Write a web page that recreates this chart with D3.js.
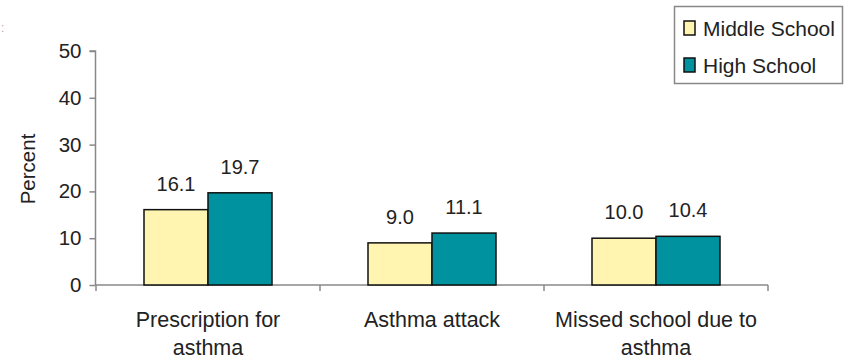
<!DOCTYPE html>
<html>
<head>
<meta charset="utf-8">
<script src="https://cdn.jsdelivr.net/npm/d3@7"></script>
<style>
  html, body { margin: 0; padding: 0; background: #fff; }
  svg { display: block; font-family: Arial, "Liberation Sans", sans-serif; }
</style>
</head>
<body>
<svg id="chart" width="850" height="359"></svg>
<script>
const categories = ["Prescription for|asthma", "Asthma attack", "Missed school due to|asthma"];
const seriesNames = ["Middle School", "High School"];
const middleSchool = [16.1, 9.0, 10.0];
const highSchool = [19.7, 11.1, 10.4];
const yTicks = [0, 10, 20, 30, 40, 50];
const colors = ["#FFF5B0", "#00929E"];

const svg = d3.select("#chart");
const x0 = d3.scaleBand().domain(categories).range([96, 768]).paddingInner(0).paddingOuter(0);
const x1 = d3.scaleBand().domain(seriesNames).range([0, 128]);
const y = d3.scaleLinear().domain([0, 50]).range([285, 51]);

const data = categories.map((c, i) => ({ cat: c, vals: [middleSchool[i], highSchool[i]] }));

// partial glyph visible at the top-left edge of the reference
svg.append("text").attr("x", 1).attr("y", 32).attr("font-size", 12).attr("fill", "#aaa").text(":");

// y axis
const yAxis = svg.append("g").attr("transform", "translate(95.5,0)")
  .call(d3.axisLeft(y).tickValues(yTicks).tickSize(6).tickPadding(8).tickFormat(d3.format("d")));
yAxis.select(".domain").attr("stroke", "#888").attr("stroke-width", 1.5).attr("d", `M-6,${y(50)}H0V${y(0)}`);
yAxis.selectAll(".tick line").attr("stroke", "#888").attr("stroke-width", 1.5);
yAxis.selectAll(".tick text").attr("font-size", 20.5).attr("fill", "#222").attr("font-family", "Arial, 'Liberation Sans', sans-serif");

// x axis
const xAxis = svg.append("g").attr("transform", `translate(0,${y(0)})`);
xAxis.append("line").attr("x1", 96).attr("x2", 768).attr("y1", 0).attr("y2", 0).attr("stroke", "#888").attr("stroke-width", 1.5);
const bounds = [x0.range()[0]].concat(categories.map(c => x0(c) + x0.bandwidth()));
xAxis.selectAll("line.xt").data(bounds).enter().append("line").attr("class", "xt")
  .attr("x1", d => d).attr("x2", d => d).attr("y1", 0).attr("y2", 6).attr("stroke", "#888").attr("stroke-width", 1.5);

// bars
const groups = svg.selectAll("g.grp").data(data).enter().append("g").attr("class", "grp")
  .attr("transform", d => `translate(${x0(d.cat) + (x0.bandwidth() - 128) / 2},0)`);
groups.selectAll("rect").data(d => d.vals.map((v, j) => ({ v, s: seriesNames[j], j }))).enter().append("rect")
  .attr("x", d => x1(d.s)).attr("y", d => y(d.v)).attr("width", x1.bandwidth()).attr("height", d => y(0) - y(d.v))
  .attr("fill", d => colors[d.j]).attr("stroke", "#111").attr("stroke-width", 1.5);
groups.selectAll("text.val").data(d => d.vals.map((v, j) => ({ v, s: seriesNames[j] }))).enter().append("text")
  .attr("class", "val").attr("x", d => x1(d.s) + x1.bandwidth() / 2).attr("y", d => y(d.v) - 19)
  .attr("text-anchor", "middle").attr("font-size", 20).attr("fill", "#222").text(d => d3.format(".1f")(d.v));

// category labels
const catLab = svg.selectAll("text.cat").data(categories).enter().append("text").attr("class", "cat")
  .attr("x", d => x0(d) + x0.bandwidth() / 2).attr("y", 327).attr("text-anchor", "middle").attr("font-size", 21.5).attr("fill", "#222");
catLab.each(function(d) {
  const parts = d.split("|");
  d3.select(this).selectAll("tspan").data(parts).enter().append("tspan")
    .attr("x", x0(d) + x0.bandwidth() / 2).attr("dy", (p, i) => i === 0 ? 0 : 28).text(p => p);
});

// y label
svg.append("text").attr("transform", "translate(35,169) rotate(-90)").attr("text-anchor", "middle")
  .attr("font-size", 20.5).attr("fill", "#222").text("Percent");

// legend
const leg = svg.append("g");
leg.append("rect").attr("x", 674.5).attr("y", 6.5).attr("width", 168).attr("height", 77).attr("fill", "#fff").attr("stroke", "#888").attr("stroke-width", 1.5);
seriesNames.forEach((s, i) => {
  const yy = 21 + i * 37;
  leg.append("rect").attr("x", 684).attr("y", yy).attr("width", 11).attr("height", 14).attr("fill", colors[i]).attr("stroke", "#111").attr("stroke-width", 1.5);
  leg.append("text").attr("x", 703).attr("y", yy + 14.5).attr("font-size", 21).attr("fill", "#222").text(s);
});
</script>
</body>
</html>
